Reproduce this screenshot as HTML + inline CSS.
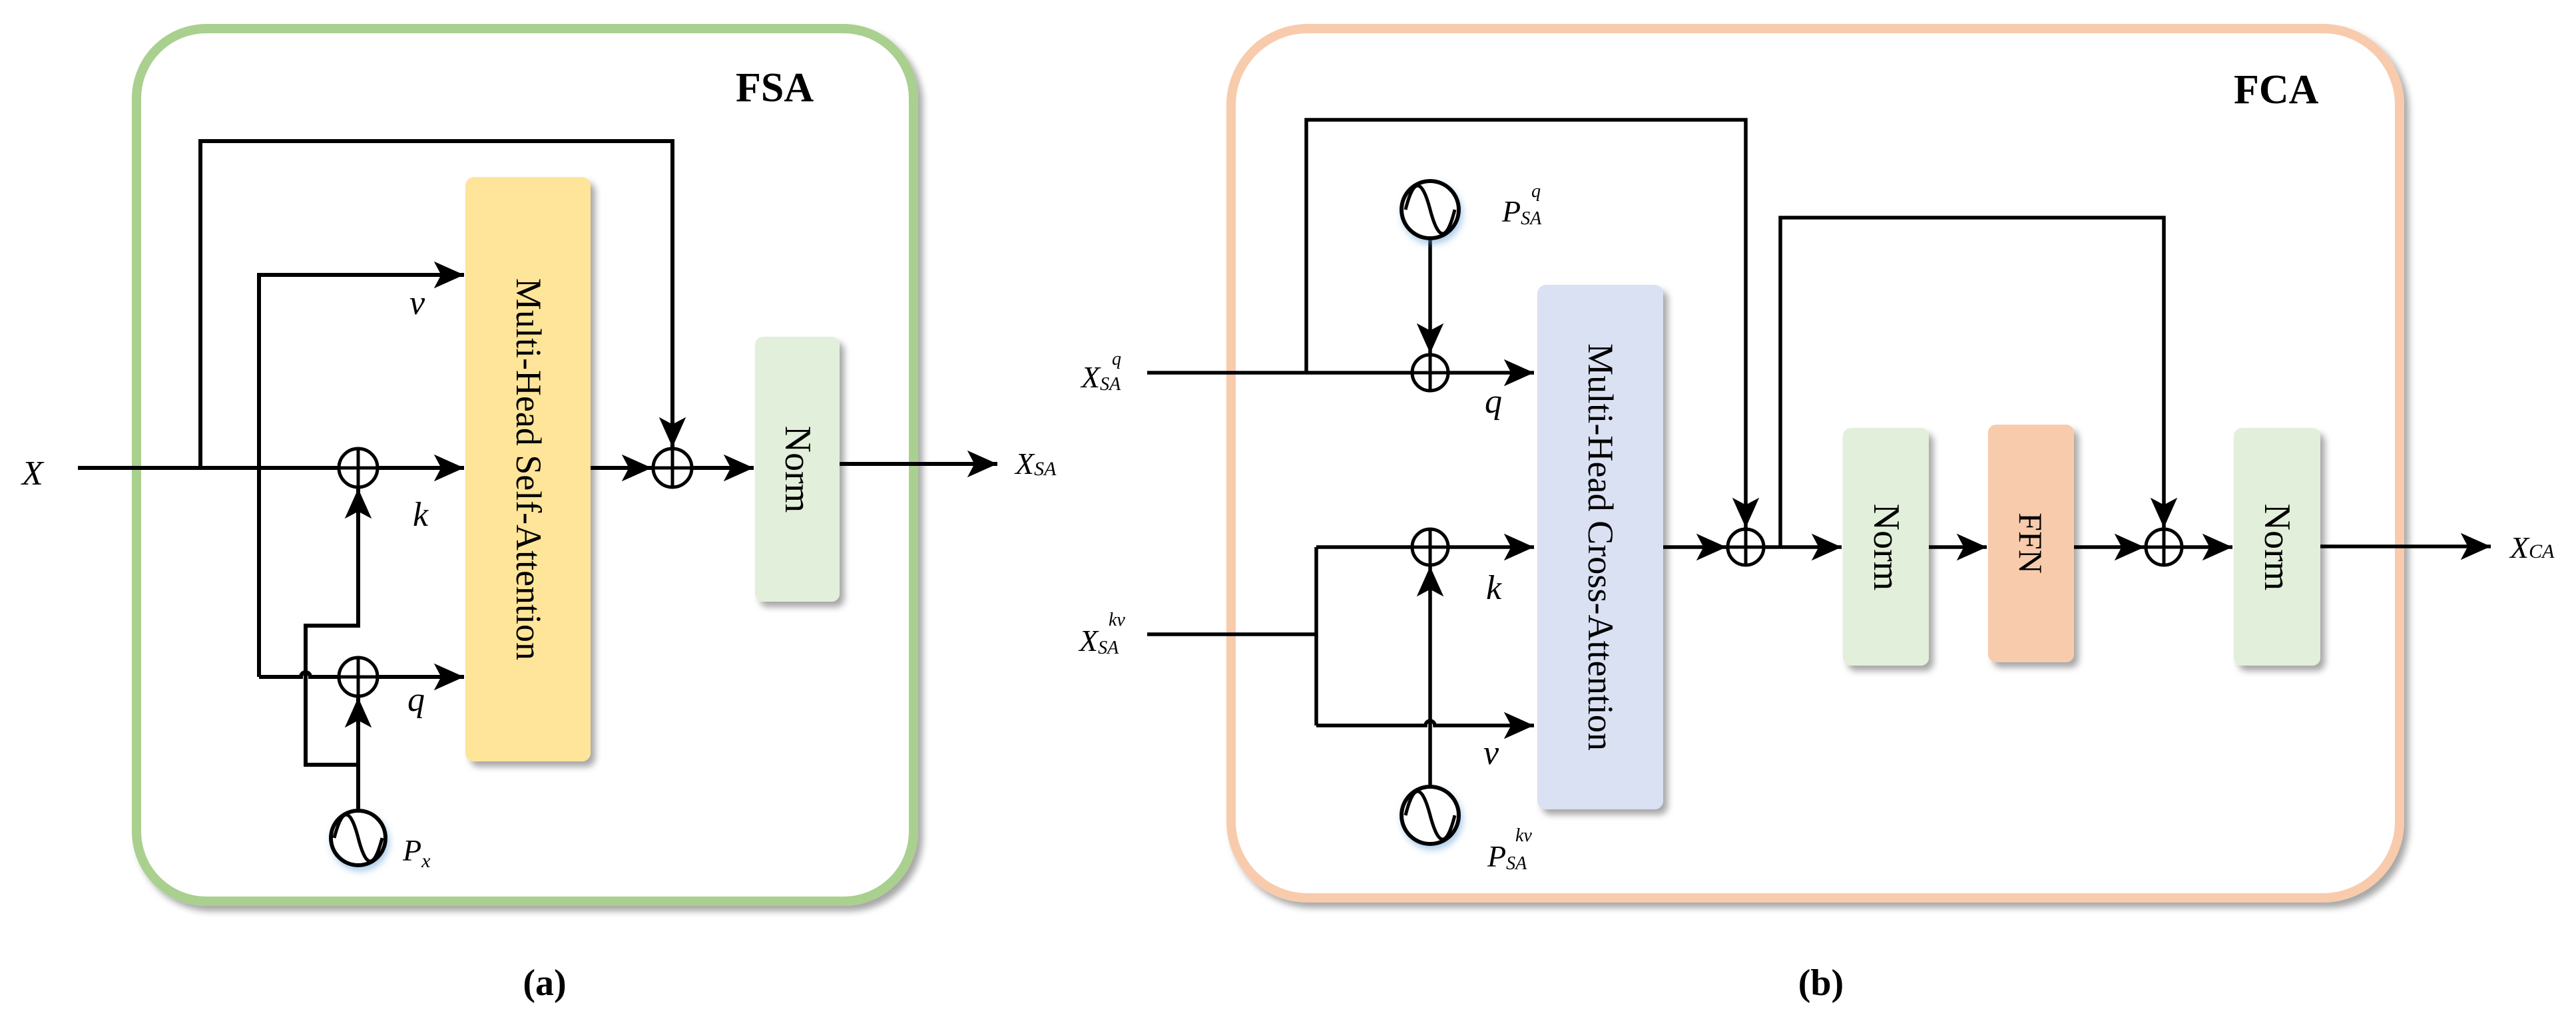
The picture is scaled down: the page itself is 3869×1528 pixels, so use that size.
<!DOCTYPE html>
<html><head><meta charset="utf-8"><style>
html,body{margin:0;padding:0;background:#fff;}
svg{display:block;}
text{font-family:"Liberation Serif",serif;}
.it{font-style:italic;}
</style></head><body>
<svg width="3869" height="1528" viewBox="0 0 3869 1528" xmlns="http://www.w3.org/2000/svg">
<defs>
<filter id="sh" x="-20%" y="-20%" width="150%" height="150%">
<feDropShadow dx="7" dy="8" stdDeviation="5" flood-color="#000" flood-opacity="0.35"/>
</filter>
<filter id="glow" x="-40%" y="-40%" width="180%" height="180%">
<feDropShadow dx="3" dy="6" stdDeviation="5" flood-color="#5b9bd5" flood-opacity="0.5"/>
</filter>
<marker id="ar" markerUnits="userSpaceOnUse" markerWidth="50" markerHeight="50" viewBox="-40 -20 42 40" refX="0" refY="0" orient="auto">
<path d="M0,0 L-38,-17 L-29,0 L-38,17 Z" fill="#000"/>
</marker>
</defs>

<!-- Panel a -->
<rect x="205" y="43" width="1167" height="1311" rx="105" fill="#fff" stroke="#a9d08e" stroke-width="14" filter="url(#sh)"/>
<text x="1105" y="152" font-size="62" font-weight="bold">FSA</text>

<rect x="699" y="266" width="188" height="878" rx="13" fill="#fee599" filter="url(#sh)"/>
<text transform="translate(776,705) rotate(90)" font-size="54" text-anchor="middle" textLength="574" lengthAdjust="spacingAndGlyphs">Multi-Head Self-Attention</text>
<rect x="1134" y="506" width="127" height="398" rx="12" fill="#e2efda" filter="url(#sh)"/>
<text transform="translate(1180,705) rotate(90)" font-size="56" text-anchor="middle">Norm</text>

<g fill="none" stroke="#000" stroke-width="6">
<path d="M117,703 H697" marker-end="url(#ar)"/>
<path d="M301,703 V212 H1010 V672" marker-end="url(#ar)"/>
<path d="M389,1017 V413 H697" marker-end="url(#ar)"/>
<path d="M389,1017 H452 a7,7 0 0 1 14,0 H509"/>
<path d="M567,1017 H697" marker-end="url(#ar)"/>
<path d="M538,1218 V1048" marker-end="url(#ar)"/>
<path d="M538,1149 H459 V940 H538 V734" marker-end="url(#ar)"/>
<path d="M887,703 H979" marker-end="url(#ar)"/>
<path d="M1039,703 H1132" marker-end="url(#ar)"/>
<path d="M1261,697 H1498" marker-end="url(#ar)"/>
</g>
<g fill="#fff" stroke="#000" stroke-width="5">
<circle cx="538" cy="703" r="29"/><path d="M509,703 H567 M538,674 V732"/>
<circle cx="538" cy="1017" r="29"/><path d="M509,1017 H567 M538,988 V1046"/>
<circle cx="1010" cy="703" r="29"/><path d="M981,703 H1039 M1010,674 V732"/>
</g>
<g filter="url(#glow)"><circle cx="538" cy="1259" r="41" fill="#fff" stroke="#000" stroke-width="6"/></g>
<path d="M502,1259 Q520,1189 538,1259 Q556,1329 574,1259" fill="none" stroke="#000" stroke-width="5"/>

<text x="33" y="728" font-size="52" class="it">X</text>
<text x="615" y="472" font-size="52" class="it">v</text>
<text x="620" y="790" font-size="52" class="it">k</text>
<text x="612" y="1068" font-size="52" class="it">q</text>
<text x="605" y="1293" font-size="46" class="it">P<tspan font-size="30" dy="10">x</tspan></text>
<text x="1525" y="712" font-size="46" class="it">X<tspan font-size="30" dy="2">SA</tspan></text>
<text x="818" y="1495" font-size="56" font-weight="bold" text-anchor="middle">(a)</text>

<!-- Panel b -->
<rect x="1849" y="43" width="1755" height="1306" rx="115" fill="#fff" stroke="#f8cbad" stroke-width="14" filter="url(#sh)"/>
<text x="3355" y="155" font-size="62" font-weight="bold">FCA</text>

<rect x="2309" y="428" width="189" height="788" rx="13" fill="#dae1f3" filter="url(#sh)"/>
<text transform="translate(2386,822) rotate(90)" font-size="54" text-anchor="middle" textLength="612" lengthAdjust="spacingAndGlyphs">Multi-Head Cross-Attention</text>
<rect x="2768" y="643" width="129" height="357" rx="12" fill="#e2efda" filter="url(#sh)"/>
<text transform="translate(2815,822) rotate(90)" font-size="56" text-anchor="middle">Norm</text>
<rect x="2986" y="638" width="129" height="357" rx="12" fill="#f8cbad" filter="url(#sh)"/>
<text transform="translate(3033,816) rotate(90)" font-size="50" text-anchor="middle">FFN</text>
<rect x="3355" y="643" width="130" height="357" rx="12" fill="#e2efda" filter="url(#sh)"/>
<text transform="translate(3402,822) rotate(90)" font-size="56" text-anchor="middle">Norm</text>

<g fill="none" stroke="#000" stroke-width="5.5">
<path d="M1723,560 H2304" marker-end="url(#ar)"/>
<path d="M1962,560 V180 H2622 V793" marker-end="url(#ar)"/>
<path d="M2148,358 V531" marker-end="url(#ar)"/>
<path d="M1723,953 H1977 M1977,822 V1090"/>
<path d="M1977,822 H2304" marker-end="url(#ar)"/>
<path d="M1977,1090 H2141 a7,7 0 0 1 14,0 H2304" marker-end="url(#ar)"/>
<path d="M2148,1182 V851" marker-end="url(#ar)"/>
<path d="M2498,822 H2593" marker-end="url(#ar)"/>
<path d="M2674,822 V327 H3250 V793" marker-end="url(#ar)"/>
<path d="M2649,822 H2766" marker-end="url(#ar)"/>
<path d="M2897,822 H2984" marker-end="url(#ar)"/>
<path d="M3115,822 H3221" marker-end="url(#ar)"/>
<path d="M3277,822 H3353" marker-end="url(#ar)"/>
<path d="M3485,821 H3741" marker-end="url(#ar)"/>
</g>
<g fill="#fff" stroke="#000" stroke-width="5">
<circle cx="2148" cy="560" r="27"/><path d="M2121,560 H2175 M2148,533 V587"/>
<circle cx="2148" cy="822" r="27"/><path d="M2121,822 H2175 M2148,795 V849"/>
<circle cx="2622" cy="822" r="27"/><path d="M2595,822 H2649 M2622,795 V849"/>
<circle cx="3250" cy="822" r="27"/><path d="M3223,822 H3277 M3250,795 V849"/>
</g>
<g filter="url(#glow)">
<circle cx="2148" cy="315" r="43" fill="#fff" stroke="#000" stroke-width="6"/>
<circle cx="2148" cy="1225" r="43" fill="#fff" stroke="#000" stroke-width="6"/>
</g>
<path d="M2111,315 Q2129,243 2148,315 Q2167,387 2185,315" fill="none" stroke="#000" stroke-width="5"/>
<path d="M2111,1225 Q2129,1153 2148,1225 Q2167,1297 2185,1225" fill="none" stroke="#000" stroke-width="5"/>

<text x="1624" y="582" font-size="46" class="it">X<tspan font-size="28" dy="4">SA</tspan></text>
<text x="1670" y="548" font-size="28" class="it">q</text>
<text x="1621" y="978" font-size="46" class="it">X<tspan font-size="28" dy="4">SA</tspan></text>
<text x="1665" y="940" font-size="28" class="it">kv</text>
<text x="2256" y="333" font-size="46" class="it">P<tspan font-size="28" dy="4">SA</tspan></text>
<text x="2300" y="296" font-size="28" class="it">q</text>
<text x="2234" y="1302" font-size="46" class="it">P<tspan font-size="28" dy="4">SA</tspan></text>
<text x="2276" y="1264" font-size="28" class="it">kv</text>
<text x="2230" y="620" font-size="52" class="it">q</text>
<text x="2232" y="900" font-size="52" class="it">k</text>
<text x="2228" y="1148" font-size="52" class="it">v</text>
<text x="3770" y="838" font-size="46" class="it">X<tspan font-size="30">CA</tspan></text>
<text x="2735" y="1495" font-size="56" font-weight="bold" text-anchor="middle">(b)</text>
</svg>
</body></html>
